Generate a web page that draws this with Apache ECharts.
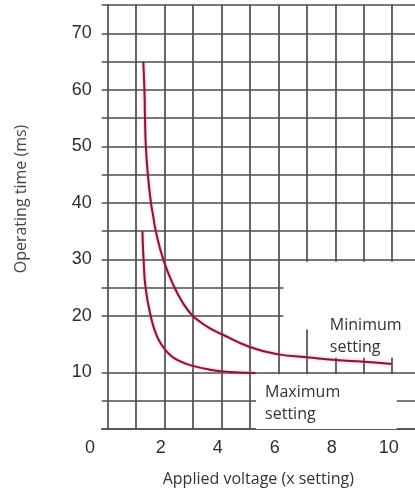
<!DOCTYPE html>
<html><head><meta charset="utf-8">
<script src="https://cdn.jsdelivr.net/npm/echarts@6/dist/echarts.min.js"></script>
<style>html,body{margin:0;padding:0;background:#fff}#c{width:415px;height:492px}</style>
</head><body><div id="c"></div>
<script>
// ---- data ----
const xGridValues = [1, 2, 3, 4, 5, 6, 7, 8, 9, 10];
const xTickLabels = [0, 2, 4, 6, 8, 10];
const yGridValues = [0, 5, 10, 20, 25, 30, 35, 40, 45, 50, 55, 60, 65, 70, 75];
const yTickLabels = [10, 20, 30, 40, 50, 60, 70];

const minSettingX = [1.26, 1.30, 1.32, 1.35, 1.42, 1.53, 1.61, 1.70, 1.96, 2.34, 2.65, 2.98, 3.3, 3.6, 4.0, 5.0, 6.0, 7.0, 8.0, 9.0, 10.0];
const minSettingY = [65, 60, 55, 50, 45, 40, 37.6, 35, 30, 25.2, 22.3, 20.1, 18.8, 17.8, 16.8, 14.5, 13.2, 12.7, 12.2, 11.9, 11.5];

const maxSettingX = [1.23, 1.25, 1.27, 1.34, 1.52, 1.73, 1.96, 2.2, 2.5, 2.9, 3.6, 4.3, 5.2];
const maxSettingY = [35, 32, 30, 25, 20, 16.5, 14.5, 13.1, 12.1, 11.3, 10.5, 10.1, 9.9];

const xTitle = 'Applied voltage (x setting)';
const yTitle = 'Operating time (ms)';
const minLabel = 'Minimum\nsetting';
const maxLabel = 'Maximum\nsetting';

// ---- chart ----
const gridColor = '#4d4d4d';
const numFont = 'Liberation Sans';
const textFont = 'Open Sans';
const pairs = (xs, ys) => xs.map((x, i) => [x, ys[i]]);

const chart = echarts.init(document.getElementById('c'), null, {renderer: 'canvas'});
chart.setOption({
  animation: false,
  backgroundColor: '#fff',
  grid: {left: 101.7, right: 0, top: 5, bottom: 61.3, containLabel: false},
  xAxis: {
    type: 'value', min: -0.2, max: 10.8,
    axisLine: {show: true, onZero: false, lineStyle: {color: gridColor, width: 1.7}},
    axisTick: {show: false, customValues: xGridValues},
    splitLine: {show: true, lineStyle: {color: gridColor, width: 1.7}},
    axisLabel: {
      customValues: xTickLabels, margin: 10,
      formatter: v => v === 0 ? '{z|0}' : '{n|' + v + '}',
      rich: {
        z: {fontFamily: numFont, fontSize: 18, color: '#2e2e2e', padding: [0, 35, 0, 0]},
        n: {fontFamily: numFont, fontSize: 18, color: '#2e2e2e', padding: [0, 7, 0, 0]}
      }
    },
    name: xTitle, nameLocation: 'middle', nameGap: 42,
    nameTextStyle: {fontFamily: textFont, fontSize: 16, color: '#333'}
  },
  yAxis: {
    type: 'value', min: 0, max: 75,
    axisLine: {show: true, lineStyle: {color: gridColor, width: 1.7}},
    axisTick: {show: false, customValues: yGridValues},
    splitLine: {show: true, lineStyle: {color: gridColor, width: 1.7}},
    axisLabel: {customValues: yTickLabels, margin: 10, fontFamily: numFont, fontSize: 18, color: '#2e2e2e'},
    name: yTitle, nameLocation: 'middle', nameGap: 72,
    nameTextStyle: {fontFamily: textFont, fontSize: 16, color: '#444', padding: [0, 0, 0, 36]}
  },
  series: [
    {
      type: 'line', name: 'Minimum setting', data: pairs(minSettingX, minSettingY),
      smooth: 0.5, symbol: 'none', z: 3,
      lineStyle: {color: '#7e1a3c', width: 2, shadowColor: 'rgba(235,100,140,0.7)', shadowBlur: 3}
    },
    {
      type: 'line', name: 'Maximum setting', data: pairs(maxSettingX, maxSettingY),
      smooth: 0.5, symbol: 'none', z: 3,
      lineStyle: {color: '#7e1a3c', width: 2, shadowColor: 'rgba(235,100,140,0.7)', shadowBlur: 3},
      markArea: {
        silent: true, z: 2,
        itemStyle: {color: '#fff', borderWidth: 0},
        label: {show: true, position: 'insideTopLeft', distance: 0,
          fontFamily: textFont, fontSize: 16, lineHeight: 22, color: '#333'},
        data: [
          [{xAxis: 6.18, yAxis: 29.6, name: ''}, {xAxis: 10.8, yAxis: 17.6}],
          [{xAxis: 7.46, yAxis: 20.3, name: minLabel, label: {padding: [0, 0, 0, 10]}}, {xAxis: 10.8, yAxis: 12.6}],
          [{xAxis: 5.22, yAxis: 9.7, name: maxLabel, label: {padding: [7, 0, 0, 9]}}, {xAxis: 10.16, yAxis: 0}]
        ]
      }
    }
  ]
});
</script></body></html>
